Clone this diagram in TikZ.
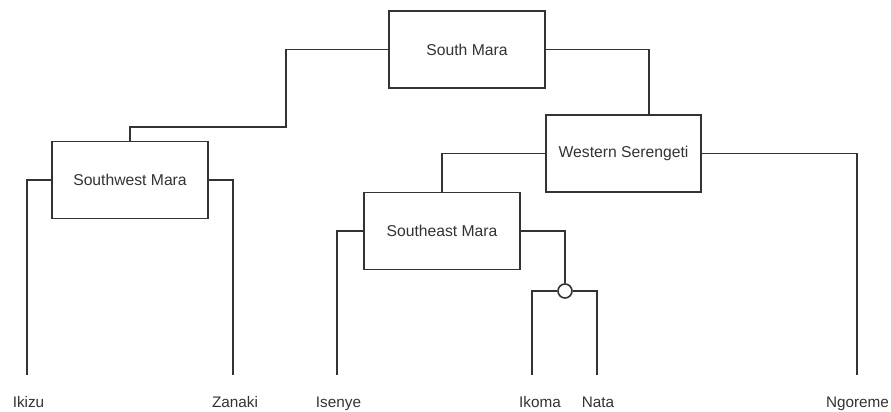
\documentclass[tikz,border=0pt]{standalone}
\usepackage{fontspec}
\setmainfont{Liberation Sans}
\begin{document}
\begin{tikzpicture}[x=1pt,y=-1pt,
  conn/.style={draw=black!80, line width=1.6pt},
  box/.style={draw=black!80, line width=1.6pt, fill=white, minimum width=156pt, minimum height=77pt, inner sep=0pt, font=\fontsize{15.7}{18}\selectfont, text=black!80},
  leaf/.style={inner sep=0pt, anchor=base, font=\fontsize{15.3}{18}\selectfont, text=black!80},
  junction/.style={circle, draw=black!80, line width=1.6pt, fill=white, minimum size=14pt, inner sep=0pt}]
\useasboundingbox (0,0) rectangle (891,412);
\fill[white] (0,0) rectangle (891,412);
% boxes
\node[box] (SM) at (467,49.5) {South Mara};
\node[box] (SW) at (130,180) {Southwest Mara};
\node[box, minimum width=155pt] (WS) at (623.5,153.5) {Western Serengeti};
\node[box] (SE) at (442,231) {Southeast Mara};
\node[junction] (J) at (565,291) {};
% leaves
\node[leaf] (ikizu) at (28.5,407) {Ikizu};
\node[leaf] (zanaki) at (235,407) {Zanaki};
\node[leaf] (isenye) at (338.5,407) {Isenye};
\node[leaf] (ikoma) at (540,407) {Ikoma};
\node[leaf] (nata) at (598,407) {Nata};
\node[leaf] (ngoreme) at (857.5,407) {Ngoreme};
\coordinate (ikizuT) at (27,375);
\coordinate (zanakiT) at (233,375);
\coordinate (isenyeT) at (337,375);
\coordinate (ikomaT) at (532,375);
\coordinate (nataT) at (597,375);
\coordinate (ngoremeT) at (857,375);
\coordinate (smL) at (286,127);
\coordinate (wsIn) at (649,115);
% connectors
\draw[conn] (SM.west) -| (smL) -| (SW.north);
\draw[conn] (SM.east) -| (wsIn);
\draw[conn] (WS.west) -| (SE.north);
\draw[conn] (WS.east) -| (ngoremeT);
\draw[conn] (SW.west) -| (ikizuT);
\draw[conn] (SW.east) -| (zanakiT);
\draw[conn] (SE.west) -| (isenyeT);
\draw[conn] (SE.east) -| (J.north);
\draw[conn] (ikomaT) |- (J.west);
\draw[conn] (J.east) -| (nataT);
\end{tikzpicture}
\end{document}
